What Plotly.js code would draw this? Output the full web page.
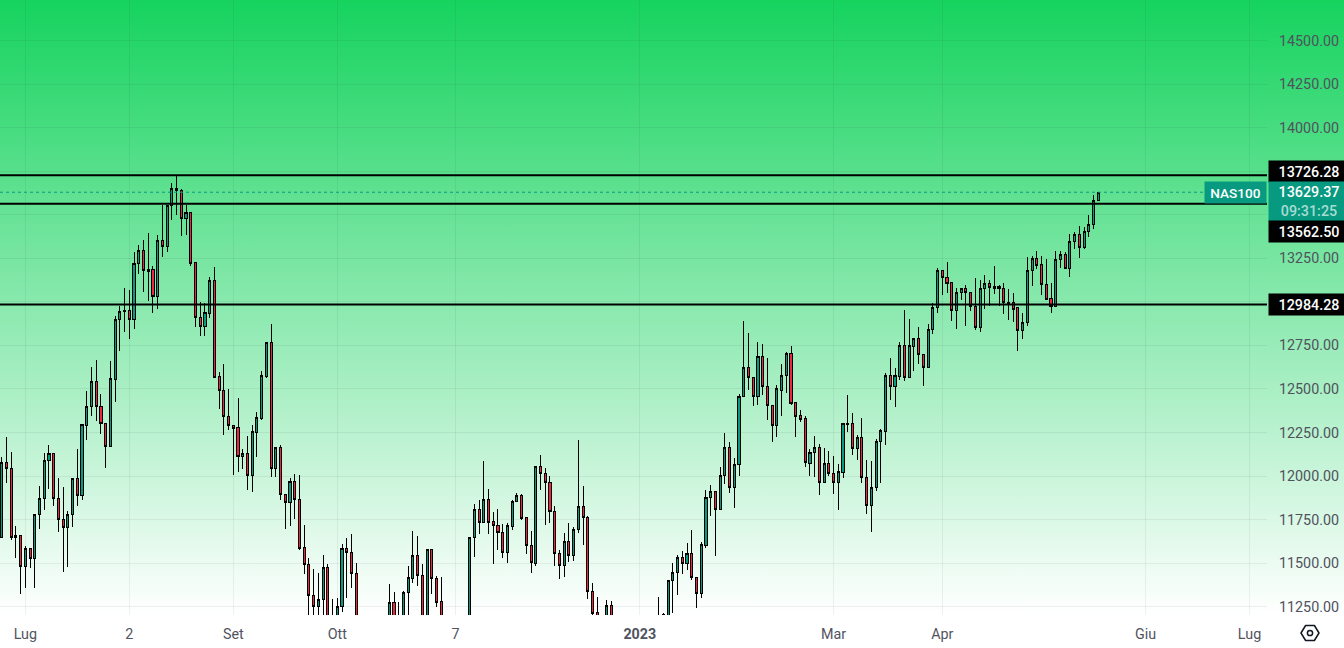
<!DOCTYPE html>
<html>
<head>
<meta charset="utf-8">
<script src="https://cdn.plot.ly/plotly-3.0.1.min.js"></script>
<style>
  html, body { margin: 0; padding: 0; width: 1344px; height: 648px; overflow: hidden; background: #fff; }
  #backdrop { position: absolute; left: 0; top: 0; width: 1344px; height: 615px; background: linear-gradient(#16d35e 0%, #ffffff 100%); }
  #chart { position: absolute; left: 0; top: -7px; width: 1344px; height: 655px; }
  #chart .boxlayer path { shape-rendering: crispEdges; }
  #gear { position: absolute; left: 1299px; top: 622px; }
</style>
</head>
<body>
<div id="backdrop"></div>
<div id="chart"></div>
<svg id="gear" width="22" height="22" viewBox="0 0 22 22">
  <path d="M6.6 3.5 H15.4 L20 11 L15.4 18.5 H6.6 L2 11 Z" fill="none" stroke="#131722" stroke-width="1.5" stroke-linejoin="round"/>
  <circle cx="11" cy="11" r="2.6" fill="none" stroke="#131722" stroke-width="1.5"/>
</svg>
<script>
// NAS100 daily candles
const opens = [
  11646,12076,12041,11646,11657,11480,11582,11525,11778,11869,
  12087,12128,11869,11749,11703,11778,11984,11886,12288,12397,
  12540,12397,12300,12167,12552,12896,12942,12953,12896,13223,
  13297,13188,13188,13033,13355,13320,13555,13653,13642,13481,
  13515,13228,12913,12861,12931,13125,12569,12489,12340,12288,
  12277,12111,12128,12001,12248,12328,12569,12764,12041,12162,
  11892,11846,11967,11863,11588,11491,11313,11250,11290,11474,
  11180,11100,11250,11582,11559,11439,11060,10950,11040,10920,
  11000,11110,11120,11273,11180,11150,11330,11410,11543,11428,
  11130,11577,11410,11279,11090,10980,11050,11060,11140,11060,
  11646,11807,11732,11863,11737,11714,11674,11559,11709,11852,
  11886,11760,11599,11497,12053,12013,11962,11795,11554,11485,
  11623,11543,11691,11824,11760,11336,11216,11150,11120,11256,
  11110,11000,10870,10970,10890,10950,10990,11080,11010,11060,
  11130,11180,11399,11445,11531,11497,11554,11416,11325,11599,
  11875,11909,11807,12001,12162,11933,12064,12454,12621,12563,
  12454,12689,12512,12403,12288,12494,12575,12701,12420,12346,
  12328,12070,12134,12162,11962,12070,12013,11962,12019,12294,
  12300,12156,12219,11990,11829,11933,12196,12254,12575,12517,
  12569,12747,12563,12741,12787,12695,12621,12844,12970,13182,
  13142,13114,12953,13051,13074,13056,12976,12850,13079,13108,
  13091,13091,13074,12988,12994,12965,12833,12884,13182,13251,
  13217,13097,13022,12976,13245,13274,13194,13349,13389,13314,13406,13446,13584
];
const highs = [
  12111,12225,12139,11714,11663,11599,11588,11784,11944,12134,
  12179,12128,11990,11939,11801,11990,12156,12300,12489,12626,
  12667,12472,12305,12661,12919,12976,13080,13068,13286,13326,
  13355,13395,13205,13383,13555,13555,13682,13722,13647,13555,
  13515,13228,12999,12994,13142,13200,12598,12644,12500,12288,
  12449,12156,12231,12294,12368,12603,12764,12873,12167,12179,
  11892,11990,12013,12007,11720,11531,11468,11445,11548,11497,
  11296,11302,11611,11646,11669,11503,11120,11100,11080,11120,
  11160,11170,11382,11336,11279,11342,11485,11686,11657,11497,
  11577,11577,11428,11422,11120,11100,11150,11170,11170,11646,
  11841,11863,12087,11927,11795,11813,11726,11732,11863,11904,
  11898,11766,11686,12059,12122,12047,12001,11829,11577,11674,
  11732,11709,12208,11944,11772,11388,11307,11180,11290,11284,
  11170,11050,11000,11010,11030,11060,11110,11130,11160,11307,
  11216,11405,11503,11548,11571,11617,11691,11422,11623,11921,
  11950,11915,12053,12248,12196,12105,12472,12890,12821,12563,
  12770,12758,12678,12403,12523,12644,12712,12747,12420,12380,
  12346,12156,12231,12185,12162,12145,12116,12070,12300,12466,
  12363,12236,12334,12093,12087,12214,12271,12592,12678,12621,
  12770,12953,12902,12793,12856,12695,12873,12994,13194,13182,
  13228,13114,13080,13080,13097,13056,13137,13125,13154,13125,
  13205,13097,13108,13074,13051,12965,12937,13257,13263,13292,
  13263,13245,13108,13292,13292,13286,13389,13400,13435,13429,13498,13613,13632
];
const lows = [
  11646,11962,11634,11531,11325,11359,11474,11359,11697,11807,
  11927,11829,11680,11450,11480,11709,11829,11863,12208,12346,
  12317,12242,12047,12167,12426,12718,12827,12787,12844,13160,
  13056,13005,12937,12959,13258,13286,13469,13498,13377,13383,
  13205,12856,12804,12804,12908,12563,12385,12236,12265,12007,
  12024,12041,11921,11909,12111,12323,12563,11996,11996,11863,
  11697,11714,11754,11577,11439,11170,11140,11110,11140,11060,
  11040,11040,11222,11302,11359,11000,10900,10890,10880,10870,
  10960,10970,11060,11080,11040,11100,11170,11388,11370,11100,
  11090,11325,11250,11060,10930,10920,11000,11010,10990,11030,
  11537,11669,11732,11669,11497,11577,11531,11503,11691,11852,
  11749,11554,11445,11485,11921,11720,11732,11485,11410,11422,
  11508,11514,11674,11605,11296,11150,11080,11050,11080,11060,
  10940,10860,10840,10840,10850,10900,10950,10960,10980,11030,
  11090,11100,11216,11319,11439,11462,11405,11245,11302,11588,
  11772,11543,11807,11956,11904,11818,12001,12454,12494,12403,
  12408,12466,12323,12196,12225,12346,12477,12408,12225,12311,
  12053,12001,11996,11892,11962,12001,11898,11807,11990,12254,
  12122,12093,11962,11784,11680,11915,11962,12179,12437,12397,
  12552,12546,12563,12603,12644,12517,12621,12815,12937,13039,
  13051,12890,12844,13011,12861,12948,12839,12827,12959,12976,
  13045,12976,12931,12896,12884,12718,12787,12861,13091,13188,
  13039,13011,12937,12976,13194,13188,13142,13303,13251,13303,13372,13418,13578
];
const closes = [
  12076,12041,11646,11657,11480,11582,11525,11778,11869,12087,
  12128,11869,11749,11703,11778,11984,11886,12294,12397,12540,
  12397,12300,12167,12558,12896,12942,12953,12896,13223,13297,
  13182,13177,13033,13355,13320,13555,13653,13642,13481,13515,
  13223,12913,12861,12937,13125,12563,12489,12340,12288,12271,
  12111,12128,12001,12254,12334,12575,12764,12041,12162,11892,
  11846,11967,11863,11582,11491,11313,11250,11290,11474,11130,
  11100,11250,11582,11559,11439,11060,10950,11040,10920,11060,
  11100,11010,11273,11130,11090,11330,11416,11543,11428,11150,
  11577,11410,11273,11120,10980,11060,11120,11130,11050,11646,
  11807,11732,11863,11732,11714,11674,11559,11714,11852,11886,
  11754,11599,11503,12053,12013,11962,11795,11554,11485,11623,
  11543,11691,11824,11760,11336,11210,11120,11090,11256,11110,
  10980,10900,10960,10880,10990,11020,11070,11000,11110,11170,
  11204,11399,11445,11531,11497,11554,11416,11325,11605,11875,
  11909,11807,12001,12162,11933,12064,12454,12621,12563,12454,
  12689,12512,12403,12288,12500,12575,12701,12414,12340,12323,
  12076,12134,12162,11962,12070,12013,11962,12024,12300,12300,
  12156,12219,11990,11829,11933,12196,12259,12575,12517,12575,
  12747,12563,12747,12787,12695,12621,12844,12970,13182,13142,
  13108,12953,13051,13074,13056,12976,12850,13079,13108,13085,
  13079,13074,12994,12999,12959,12833,12884,13182,13251,13211,
  13097,13016,12976,13245,13274,13194,13349,13389,13314,13406,13446,13584,13629.37
];

const timeTickBars = [5, 27, 49, 71, 96, 135, 176, 199, 242, 264];
const timeTickText = ["Lug", "2", "Set", "Ott", "7", "<b>2023</b>", "Mar", "Apr", "Giu", "Lug"];
const priceTicks = [11250, 11500, 11750, 12000, 12250, 12500, 12750, 13000, 13250, 13500, 13750, 14000, 14250, 14500, 14750];
// 13000, 13500 and 13750 sit under the price boxes, so they keep only their grid line
const priceTickText = ["11250.00", "11500.00", "11750.00", "12000.00", "12250.00", "12500.00", "12750.00", "", "13250.00", "", "", "14000.00", "14250.00", "14500.00", "14750.00"];

const levels = [13726.28, 13562.50, 12984.28];
const lastPrice = 13629.37;
const symbol = "NAS100";
const countdown = "09:31:25";

const C = {
  up: "#089981",
  down: "#f2243f",
  ink: "#000000",
  axisText: "#50535e",
  grid: "rgba(42,46,57,0.07)",
  font: "Roboto, sans-serif"
};

const barIndex = opens.map((_, i) => i);

const candles = {
  type: "candlestick",
  x: barIndex,
  open: opens,
  high: highs,
  low: lows,
  close: closes,
  whiskerwidth: 0,
  increasing: { fillcolor: C.up, line: { color: C.ink, width: 1 } },
  decreasing: { fillcolor: C.down, line: { color: C.ink, width: 1 } },
  hoverinfo: "skip",
  showlegend: false
};

const shapes = levels.map(v => ({
  type: "line", xref: "paper", yref: "y",
  x0: 0, x1: 1, y0: v, y1: v,
  line: { color: C.ink, width: 2 },
  layer: "above"
}));
shapes.push({
  type: "line", xref: "paper", yref: "y",
  x0: 0, x1: 0.952, y0: lastPrice, y1: lastPrice,
  line: { color: C.up, width: 1, dash: "dot" },
  layer: "above"
});

// the box runs past the window edge so its text sits where the axis labels sit
function priceBox(text, y, yshift, height, bg) {
  return {
    xref: "paper", yref: "y", x: 1, y: y,
    xanchor: "left", yanchor: "middle",
    xshift: 1, yshift: yshift,
    width: 80, height: height,
    text: text, showarrow: false, align: "center",
    bgcolor: bg, borderpad: 0,
    font: { family: C.font, size: 14.3, color: "#ffffff", weight: 500 }
  };
}

const annotations = [
  priceBox(levels[0].toFixed(2), levels[0], 4, 21, C.ink),
  priceBox(lastPrice.toFixed(2) + "<br><span style='color:#a7dcd2'>" + countdown + "</span>", lastPrice, -9, 39, C.up),
  priceBox(levels[1].toFixed(2), levels[1], -28, 21, C.ink),
  priceBox(levels[2].toFixed(2), levels[2], 0, 21, C.ink),
  {
    xref: "paper", yref: "y", x: 1, y: lastPrice,
    xanchor: "right", yanchor: "middle", xshift: 0,
    width: 61, height: 21,
    text: symbol, showarrow: false, align: "center",
    bgcolor: C.up, borderpad: 0,
    font: { family: C.font, size: 13.6, color: "#ffffff", weight: 500 }
  }
];

const layout = {
  width: 1344,
  height: 655,
  margin: { l: 0, r: 77, t: 0, b: 33, pad: 0 },
  paper_bgcolor: "rgba(0,0,0,0)",
  plot_bgcolor: "rgba(0,0,0,0)",
  font: { family: C.font, color: C.axisText, size: 14 },
  boxgap: 0.36,
  showlegend: false,
  hovermode: false,
  xaxis: {
    type: "linear",
    range: [-0.36, 267.7],
    tickmode: "array",
    tickvals: timeTickBars,
    ticktext: timeTickText,
    ticks: "",
    showline: false,
    zeroline: false,
    showgrid: true,
    gridcolor: C.grid,
    ticklabelstandoff: 9,
    tickfont: { family: C.font, size: 14.3, color: C.axisText },
    rangeslider: { visible: false }
  },
  yaxis: {
    side: "right",
    range: [11202.4, 14773],
    tickmode: "array",
    tickvals: priceTicks,
    ticktext: priceTickText,
    ticks: "",
    showline: false,
    zeroline: false,
    showgrid: true,
    gridcolor: C.grid,
    ticklabelstandoff: 11,
    tickfont: { family: C.font, size: 14.3, color: C.axisText }
  },
  shapes: shapes,
  annotations: annotations
};

Plotly.newPlot("chart", [candles], layout, { displayModeBar: false, staticPlot: true });
</script>
</body>
</html>
